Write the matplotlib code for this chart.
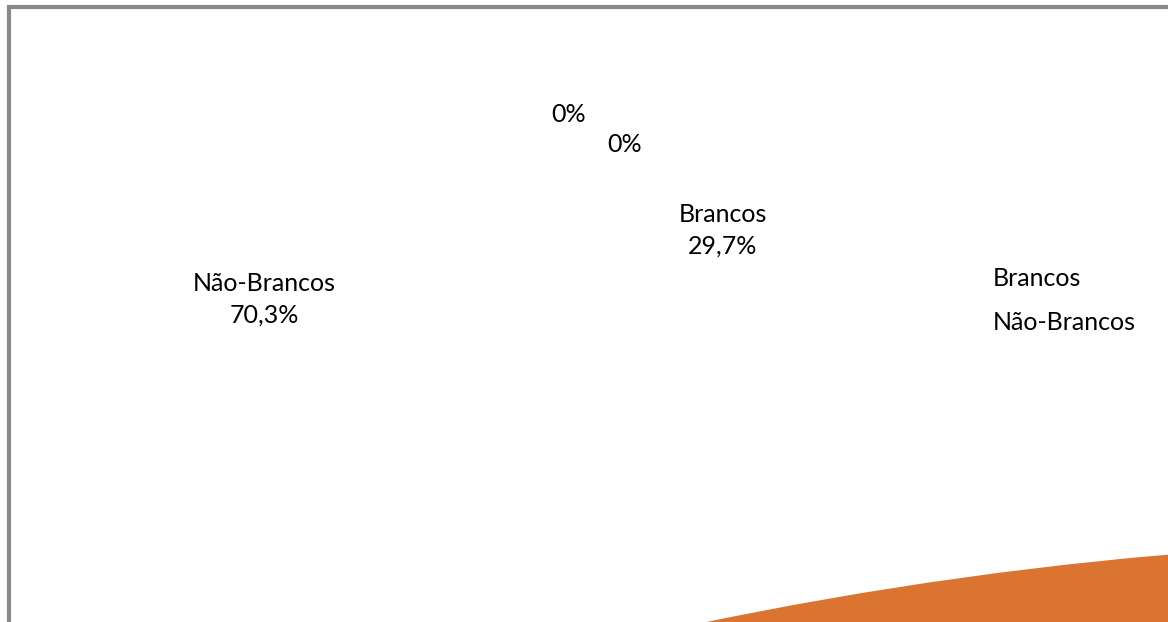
import matplotlib.pyplot as plt
from matplotlib.patches import Rectangle

# Data
categories = ['Brancos', 'Não-Brancos']
shares = [29.7, 70.3]          # percent
empty_series = [0, 0]          # second (empty) series, shows only "0%" labels
colors = ['#4472C4', '#DA7430']

W, H = 1168, 622
plt.rcParams['font.family'] = ['Lato', 'DejaVu Sans']

fig = plt.figure(figsize=(W / 100, H / 100), dpi=100)
ax = fig.add_axes([0, 0, 1, 1])

# the pie is drawn huge and mostly off the canvas, only an arc of the
# orange wedge shows up in the lower right corner
ax.pie(shares, colors=colors, radius=3950, center=(1507, H - 4490),
       startangle=90, counterclock=False, frame=True)

# chart border (only top and left edges are inside the picture)
ax.add_patch(Rectangle((9, -200), 3000, H - 7 + 200, fill=False,
                       edgecolor='#898989', linewidth=3.0, zorder=5))


def pct(v):
    return f"{v:.1f}".replace('.', ',') + '%'


def img_y(y):
    return H - y


fs = 18
# data labels of the empty series
ax.text(569, img_y(115), f"{empty_series[0]:.0f}%", ha='center', va='center', fontsize=fs)
ax.text(625, img_y(145), f"{empty_series[1]:.0f}%", ha='center', va='center', fontsize=fs)

# data labels of the pie
ax.text(723, img_y(230), f"{categories[0]}\n{pct(shares[0])}", ha='center',
        va='center', fontsize=fs, linespacing=1.45)
ax.text(264, img_y(299), f"{categories[1]}\n{pct(shares[1])}", ha='center',
        va='center', fontsize=fs, linespacing=1.45)

# legend (no markers visible)
for i, name in enumerate(categories):
    ax.text(993, img_y(278 + 44 * i), name, ha='left', va='center', fontsize=fs)

ax.set_xlim(0, W)
ax.set_ylim(0, H)
ax.set_aspect('auto')
ax.axis('off')

plt.savefig('out.png', dpi=100, facecolor='white')
